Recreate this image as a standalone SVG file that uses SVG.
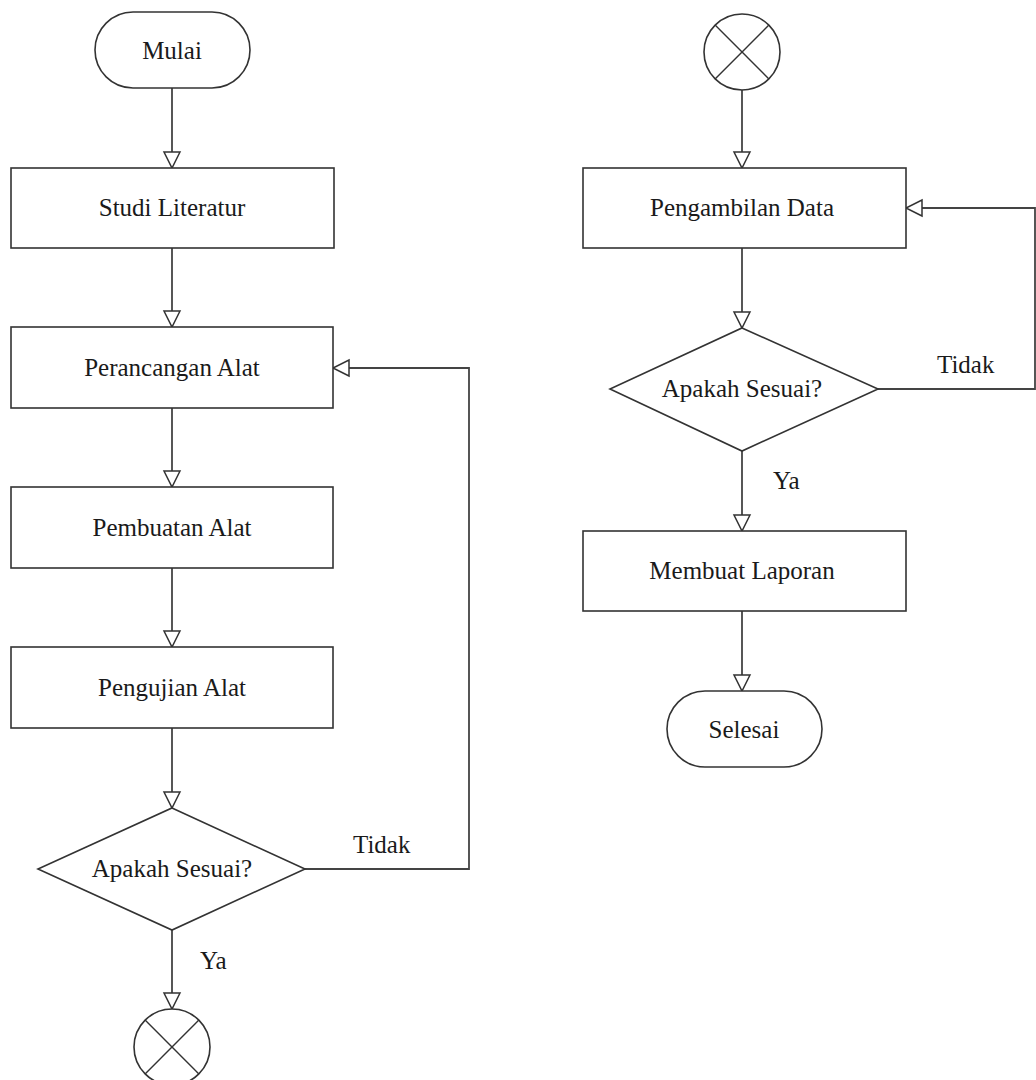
<svg xmlns="http://www.w3.org/2000/svg" width="1036" height="1080" viewBox="0 0 1036 1080">
<style>
.shape{fill:#fff;stroke:#333;stroke-width:1.6}
.line{fill:none;stroke:#444;stroke-width:1.8}
.xl{stroke:#333;stroke-width:1.4}
.t{font-family:"Liberation Serif","Times New Roman",serif;font-size:25px;fill:#1a1a1a;text-anchor:middle}
.l{font-family:"Liberation Serif","Times New Roman",serif;font-size:25px;fill:#1a1a1a}
</style>
<defs>
<marker id="arr" viewBox="-1 -10 19 20" refX="16" refY="0" markerWidth="19" markerHeight="20" markerUnits="userSpaceOnUse" orient="auto">
<path d="M0,-8 L16,0 L0,8 Z" fill="#fff" stroke="#333" stroke-width="1.5"/>
</marker>
</defs>
<rect width="1036" height="1080" fill="#fff"/>
<g id="connectors">
<line class="line" x1="172" y1="88" x2="172" y2="168" marker-end="url(#arr)"/>
<line class="line" x1="172" y1="248" x2="172" y2="327" marker-end="url(#arr)"/>
<line class="line" x1="172" y1="408" x2="172" y2="487" marker-end="url(#arr)"/>
<line class="line" x1="172" y1="568" x2="172" y2="647" marker-end="url(#arr)"/>
<line class="line" x1="172" y1="728" x2="172" y2="808" marker-end="url(#arr)"/>
<line class="line" x1="172" y1="930" x2="172" y2="1009" marker-end="url(#arr)"/>
<polyline class="line" points="305,869 469,869 469,368 333,368" marker-end="url(#arr)"/>
<line class="line" x1="742" y1="90" x2="742" y2="168" marker-end="url(#arr)"/>
<line class="line" x1="742" y1="248" x2="742" y2="328" marker-end="url(#arr)"/>
<line class="line" x1="742" y1="451" x2="742" y2="531" marker-end="url(#arr)"/>
<line class="line" x1="742" y1="611" x2="742" y2="691" marker-end="url(#arr)"/>
<polyline class="line" points="878,389 1035,389 1035,208 906,208" marker-end="url(#arr)"/>
<text class="l" x="353" y="853">Tidak</text>
<text class="l" x="200" y="969">Ya</text>
<text class="l" x="937" y="373">Tidak</text>
<text class="l" x="773" y="489">Ya</text>
</g>
<g id="mulai">
<rect class="shape" x="95" y="12" width="155" height="76" rx="38" ry="38"/>
<text class="t" x="172" y="59">Mulai</text>
</g>
<g id="studi-literatur">
<rect class="shape" x="11" y="168" width="323" height="80"/>
<text class="t" x="172" y="216">Studi Literatur</text>
</g>
<g id="perancangan-alat">
<rect class="shape" x="11" y="327" width="322" height="81"/>
<text class="t" x="172" y="376">Perancangan Alat</text>
</g>
<g id="pembuatan-alat">
<rect class="shape" x="11" y="487" width="322" height="81"/>
<text class="t" x="172" y="536">Pembuatan Alat</text>
</g>
<g id="pengujian-alat">
<rect class="shape" x="11" y="647" width="322" height="81"/>
<text class="t" x="172" y="696">Pengujian Alat</text>
</g>
<g id="keputusan-1">
<polygon class="shape" points="172,808 305,869 172,930 38,869"/>
<text class="t" x="172" y="877">Apakah Sesuai?</text>
</g>
<g id="konektor-1">
<circle class="shape" cx="172" cy="1047" r="38"/>
<line class="xl" x1="145.1" y1="1020.1" x2="198.9" y2="1073.9"/>
<line class="xl" x1="198.9" y1="1020.1" x2="145.1" y2="1073.9"/>
</g>
<g id="konektor-2">
<circle class="shape" cx="742" cy="52" r="38"/>
<line class="xl" x1="715.1" y1="25.1" x2="768.9" y2="78.9"/>
<line class="xl" x1="768.9" y1="25.1" x2="715.1" y2="78.9"/>
</g>
<g id="pengambilan-data">
<rect class="shape" x="583" y="168" width="323" height="80"/>
<text class="t" x="742" y="216">Pengambilan Data</text>
</g>
<g id="keputusan-2">
<polygon class="shape" points="742,328 878,389 742,451 610,389"/>
<text class="t" x="742" y="397">Apakah Sesuai?</text>
</g>
<g id="membuat-laporan">
<rect class="shape" x="583" y="531" width="323" height="80"/>
<text class="t" x="742" y="579">Membuat Laporan</text>
</g>
<g id="selesai">
<rect class="shape" x="667" y="691" width="155" height="76" rx="38" ry="38"/>
<text class="t" x="744" y="738">Selesai</text>
</g>
</svg>
